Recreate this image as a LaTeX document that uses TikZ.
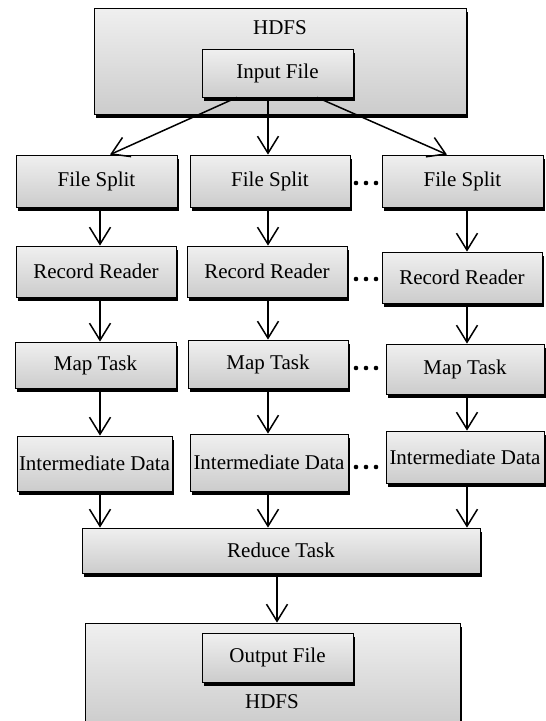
\documentclass[tikz,border=0pt]{standalone}
\usepackage{fontspec}
\setmainfont{Liberation Serif}
\usetikzlibrary{arrows.meta,shadows,calc}
\begin{document}
\begin{tikzpicture}[x=1pt,y=-1pt,
  box/.style={draw=black, line width=0.8pt, top color=black!6, bottom color=black!20,
    inner sep=0pt, anchor=center,
    drop shadow={shadow xshift=1.5pt, shadow yshift=-4pt, fill=black, opacity=1},
    font=\fontsize{21}{24}\selectfont},
  lbl/.style={font=\fontsize{21}{24}\selectfont, inner sep=0pt},
  arr/.style={line width=1.5pt, -{Straight Barb[length=17pt,width=21pt]}},
  sepdot/.style={fill=black, circle, inner sep=0pt, minimum size=4.6pt}]
\useasboundingbox (0,0) rectangle (546,721);

% HDFS top
\node[box, minimum width=372pt, minimum height=106pt] (hdfsT) at (280,61) {};
\node[lbl] (hdfsTl) at (280,28) {HDFS};
\node[box, minimum width=151pt, minimum height=48pt] (in) at (277.5,73) {Input File};

% File splits
\node[box, minimum width=161pt, minimum height=52pt] (fs1) at (96.5,181) {File Split};
\node[box, minimum width=160pt, minimum height=52pt] (fs2) at (270,181) {File Split};
\node[box, minimum width=161pt, minimum height=52pt] (fs3) at (462.5,181) {File Split};

% Record readers
\node[box, minimum width=160pt, minimum height=51pt] (rr1) at (96,271.5) {Record Reader};
\node[box, minimum width=160pt, minimum height=51pt] (rr2) at (267,271.5) {Record Reader};
\node[box, minimum width=160pt, minimum height=51pt] (rr3) at (462,277.5) {Record Reader};

% Map tasks
\node[box, minimum width=161pt, minimum height=46pt] (mp1) at (95.5,365) {Map Task};
\node[box, minimum width=160pt, minimum height=48pt] (mp2) at (268,364) {Map Task};
\node[box, minimum width=158pt, minimum height=50pt] (mp3) at (465,369) {Map Task};

% Intermediate data
\node[box, minimum width=155pt, minimum height=55pt] (id1) at (94.5,463.5) {Intermediate Data};
\node[box, minimum width=158pt, minimum height=57pt] (id2) at (269,462.5) {Intermediate Data};
\node[box, minimum width=158pt, minimum height=52pt] (id3) at (465,457) {Intermediate Data};

% Reduce
\node[box, minimum width=398pt, minimum height=45pt] (red) at (281,550.5) {Reduce Task};

% HDFS bottom
\node[box, minimum width=375pt, minimum height=103pt] (hdfsB) at (272.5,674.5) {};
\node[box, minimum width=151pt, minimum height=49pt] (out) at (277.5,657.5) {Output File};
\node[lbl] (hdfsBl) at (272,702) {HDFS};

% column x positions
\coordinate (c1) at (100,0);
\coordinate (c2) at (268,0);
\coordinate (c3) at (467,0);
\coordinate (c4) at (277,0);

% arrows from input
\draw[arr] ([xshift=-40.5pt]in.south) -- ([xshift=13.5pt]fs1.north);
\draw[arr] (in.south -| c2) -- (fs2.north -| c2);
\draw[arr] ([xshift=39.5pt]in.south) -- ([xshift=-15.5pt]fs3.north);

% column arrows
\draw[arr] (fs1.south -| c1) -- (rr1.north -| c1);
\draw[arr] (fs2.south -| c2) -- (rr2.north -| c2);
\draw[arr] (fs3.south -| c3) -- (rr3.north -| c3);
\draw[arr] (rr1.south -| c1) -- (mp1.north -| c1);
\draw[arr] (rr2.south -| c2) -- (mp2.north -| c2);
\draw[arr] (rr3.south -| c3) -- (mp3.north -| c3);
\draw[arr] (mp1.south -| c1) -- (id1.north -| c1);
\draw[arr] (mp2.south -| c2) -- (id2.north -| c2);
\draw[arr] (mp3.south -| c3) -- (id3.north -| c3);
\draw[arr] (id1.south -| c1) -- (red.north -| c1);
\draw[arr] (id2.south -| c2) -- (red.north -| c2);
\draw[arr] (id3.south -| c3) -- (red.north -| c3);
\draw[arr] (red.south -| c4) -- (hdfsB.north -| c4);

% ellipsis dots
\foreach \y/\n in {183/a,279/b,368/c,467/d}{
  \foreach \x/\m in {356/1,366/2,376/3}{
    \node[sepdot] (dot\n\m) at (\x,\y) {};
  }
}
\end{tikzpicture}
\end{document}
